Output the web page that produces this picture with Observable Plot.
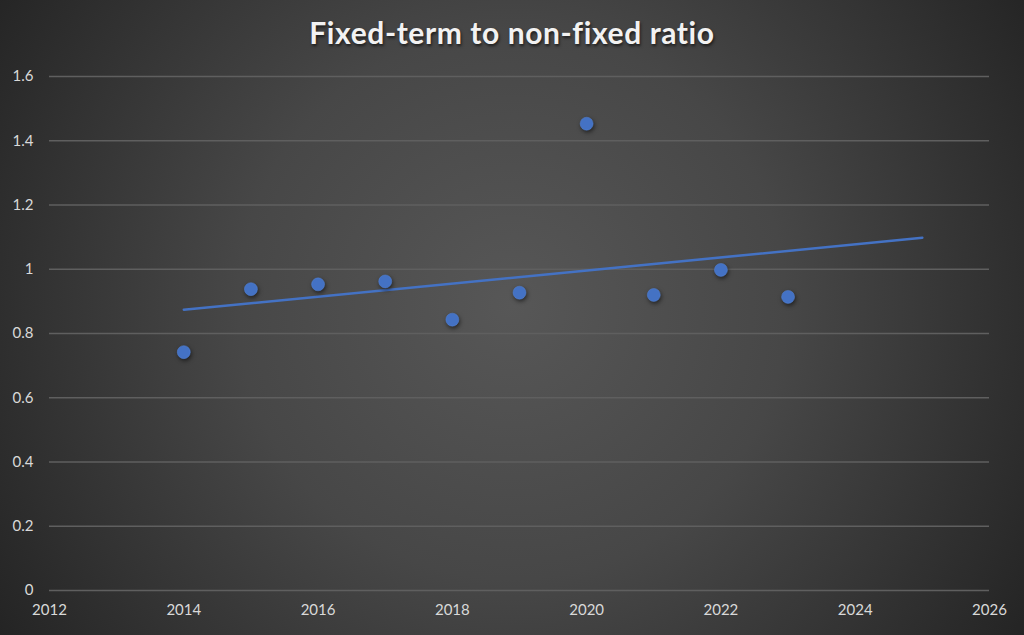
<!DOCTYPE html>
<html>
<head>
<meta charset="utf-8">
<script src="https://cdn.jsdelivr.net/npm/d3@7"></script>
<script src="https://cdn.jsdelivr.net/npm/@observablehq/plot@0.6"></script>
<style>
  html, body { margin: 0; padding: 0; }
  body {
    width: 1024px; height: 635px; overflow: hidden;
    background: radial-gradient(circle farthest-corner at 50% 48%, #575757 0%, #474747 45%, #242424 100%);
    font-family: Lato, "Open Sans", sans-serif;
  }
  #title {
    height: 60px; box-sizing: border-box; padding-top: 14px;
    text-align: center; color: #f2f2f2; font-weight: bold; font-size: 30px;
    letter-spacing: 0.6px;
    text-shadow: 1px 2px 3px rgba(0,0,0,0.6);
  }
  svg g[aria-label="dot"] { filter: drop-shadow(1px 2px 2px rgba(0,0,0,0.55)); }
</style>
</head>
<body>
<div id="title">Fixed-term to non-fixed ratio</div>
<div id="chart"></div>
<script>
const years = [2014, 2015, 2016, 2017, 2018, 2019, 2020, 2021, 2022, 2023];
const ratios = [0.742, 0.938, 0.953, 0.962, 0.843, 0.927, 1.453, 0.920, 0.998, 0.914];
const trendYears = [2014, 2025];
const trendValues = [0.874, 1.098];
const xTicks = [2012, 2014, 2016, 2018, 2020, 2022, 2024, 2026];
const yTicks = [0, 0.2, 0.4, 0.6, 0.8, 1, 1.2, 1.4, 1.6];

const points = years.map((y, i) => ({year: y, ratio: ratios[i]}));
const trend = trendYears.map((y, i) => ({year: y, ratio: trendValues[i]}));

const chart = Plot.plot({
  width: 1024,
  height: 575,
  marginTop: 16,
  marginBottom: 45,
  marginLeft: 49,
  marginRight: 35,
  style: {background: "transparent", color: "#d9d9d9", fontFamily: "Lato, 'Open Sans', sans-serif", fontSize: "15px"},
  x: {domain: [2012, 2026], ticks: xTicks, tickFormat: d => String(d), tickSize: 0, tickPadding: 14, label: null},
  y: {domain: [0, 1.6], ticks: yTicks, tickFormat: d => String(d), tickSize: 0, tickPadding: 16, label: null},
  marks: [
    Plot.gridY(yTicks, {stroke: "#5f5f5f", strokeOpacity: 1, strokeWidth: 1.5}),
    Plot.axisX({ticks: xTicks, tickFormat: d => String(d), tickSize: 0, tickPadding: 14, fill: "#d9d9d9", label: null}),
    Plot.axisY({ticks: yTicks, tickFormat: d => String(d), tickSize: 0, tickPadding: 16, fill: "#d9d9d9", label: null}),
    Plot.line(trend, {x: "year", y: "ratio", stroke: "#4472C4", strokeWidth: 2.5}),
    Plot.dot(points, {x: "year", y: "ratio", r: 6.5, fill: "#4472C4", stroke: "#5585d8", strokeWidth: 0.5})
  ]
});
document.getElementById("chart").appendChild(chart);
</script>
</body>
</html>
